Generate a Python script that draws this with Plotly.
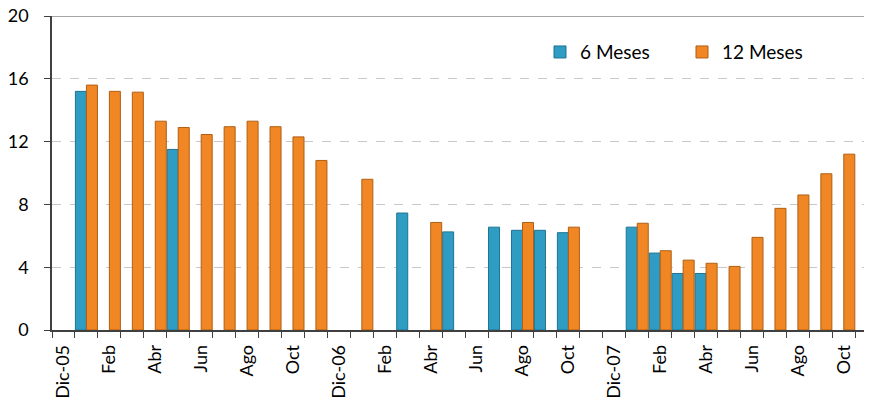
import plotly.graph_objects as go

# months shown on the category axis (Dic-05 .. Nov-08)
months = ["Dic-05", "Ene", "Feb", "Mar", "Abr", "May", "Jun", "Jul", "Ago", "Sep", "Oct", "Nov",
          "Dic-06", "Ene", "Feb", "Mar", "Abr", "May", "Jun", "Jul", "Ago", "Sep", "Oct", "Nov",
          "Dic-07", "Ene", "Feb", "Mar", "Abr", "May", "Jun", "Jul", "Ago", "Sep", "Oct", "Nov"]

seis_meses = [None, 15.2, None, None, None, 11.5, None, None, None, None, None, None,
              None, None, None, 7.45, None, 6.25, None, 6.55, 6.35, 6.35, 6.2, None,
              None, 6.55, 4.9, 3.6, 3.6, None, None, None, None, None, None, None]

doce_meses = [None, 15.6, 15.2, 15.15, 13.3, 12.9, 12.45, 12.95, 13.3, 12.95, 12.3, 10.8,
              None, 9.6, None, None, 6.85, None, None, None, 6.85, None, 6.55, None,
              None, 6.8, 5.05, 4.45, 4.25, 4.05, 5.9, 7.75, 8.6, 9.95, 11.2, 11.15]

idx = list(range(len(months)))
font = "Lato, Calibri, sans-serif"

fig = go.Figure()
fig.add_trace(go.Bar(x=idx, y=seis_meses, name="6 Meses",
                     marker=dict(color="#2f9dc3", line=dict(color="#1f7391", width=1))))
fig.add_trace(go.Bar(x=idx, y=doce_meses, name="12 Meses",
                     marker=dict(color="#f08624", line=dict(color="#b05f14", width=1))))

# solid top border at 20
fig.add_shape(type="line", xref="paper", yref="y", x0=0, x1=1, y0=20, y1=20,
              line=dict(color="#a6a6a6", width=2))

# page body has an 8px margin, so the figure is sized to fit the window
fig.update_layout(
    width=856, height=395,
    margin=dict(l=44, r=0, t=8, b=73, autoexpand=False),
    paper_bgcolor="white", plot_bgcolor="white",
    barmode="group", bargap=0.04, bargroupgap=0,
    font=dict(family=font, size=18, color="#000000"),
    legend=dict(orientation="h", x=0.601, y=0.885, xanchor="left", yanchor="middle",
                font=dict(size=19), bgcolor="rgba(0,0,0,0)",
                entrywidth=97, entrywidthmode="pixels"),
    xaxis=dict(range=[-0.5, 34.88], tickmode="array", automargin=False,
               tickvals=idx[::2], ticktext=months[::2], tickangle=-90,
               ticks="", showgrid=False, zeroline=False,
               showline=True, linecolor="#404040", linewidth=1.5,
               minor=dict(ticks="outside", ticklen=6, tick0=0.5, dtick=1,
                          tickcolor="#404040", showgrid=False),
               ticklabelstandoff=6, ticklabeloverflow="allow"),
    yaxis=dict(range=[0, 20], dtick=4, ticks="outside", ticklen=6, tickcolor="#404040",
               automargin=False, ticklabeloverflow="allow",
               showline=True, linecolor="#404040", linewidth=1.5,
               showgrid=True, gridcolor="#c8c8c8", griddash="dash", gridwidth=1,
               zeroline=False, ticklabelstandoff=12),
)

fig.write_html("out.html")
